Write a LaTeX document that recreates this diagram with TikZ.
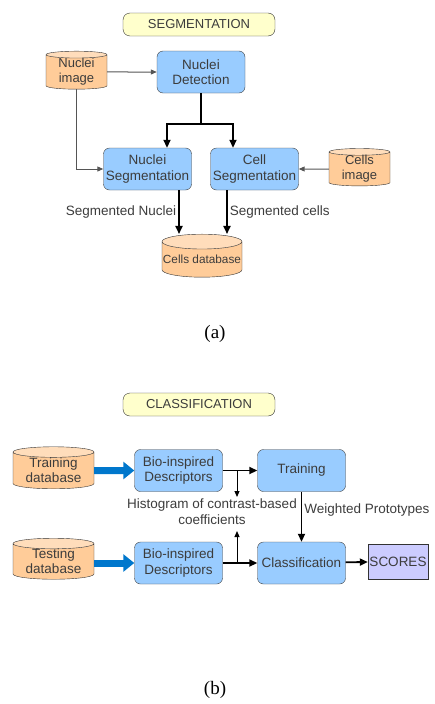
\documentclass[tikz,border=0pt]{standalone}
\usepackage{fontspec}
\setmainfont{Liberation Sans}
\newfontfamily\capfont{Liberation Serif}
\usetikzlibrary{shapes.geometric,arrows.meta,positioning}
\definecolor{boxblue}{HTML}{99CCFF}
\definecolor{dbpeach}{HTML}{FFCC99}
\definecolor{dbtop}{HTML}{FFDDBB}
\definecolor{titleyellow}{HTML}{FFFFCC}
\definecolor{scorelilac}{HTML}{CCCCFF}
\definecolor{fatblue}{HTML}{0077CC}
\definecolor{txtgray}{HTML}{3C3C3C}
\definecolor{linegray}{HTML}{555555}

\begin{document}
\begin{tikzpicture}[x=1pt,y=1pt,
  every node/.style={text=txtgray, font=\fontsize{13.5}{15.5}\selectfont},
  title/.style={draw=black!80, fill=titleyellow, rounded corners=7pt, minimum width=152pt, minimum height=23pt, inner sep=1pt, font=\fontsize{13}{15}\selectfont},
  proc/.style={draw=black!75, fill=boxblue, rounded corners=6pt, minimum width=88pt, minimum height=42pt, inner sep=1pt, align=center},
  db/.style={cylinder, shape border rotate=90, draw=black!80, cylinder uses custom fill, cylinder body fill=dbpeach, cylinder end fill=dbtop, aspect=0.19, inner sep=0pt, align=center, font=\fontsize{13.5}{15}\selectfont},
  feed/.style={draw=linegray, line width=1pt, -{Triangle[length=6pt,width=5pt]}},
  tap/.style={draw=black, line width=1pt, -{Triangle[length=6pt,width=5pt]}},
  flow/.style={draw=black, line width=1.8pt, -{Triangle[length=8pt,width=7pt]}},
  fat/.style={draw=fatblue, line width=7pt, -{Triangle[length=11pt,width=17pt]}},
  lbl/.style={inner sep=2pt}
]
\useasboundingbox (0,0) rectangle (435,-704);

% segmentation
\node[title] (segt) at (199,-24.5) {SEGMENTATION};
\node[db, minimum width=61pt, minimum height=38pt, font=\fontsize{13}{15}\selectfont] (nimg) at (76.5,-72) {Nuclei\\image};
\node[proc] (ndet) at (201,-72) {Nuclei\\Detection};
\node[proc] (nseg) at (147.5,-169) {Nuclei\\Segmentation};
\node[proc] (cseg) at (254.5,-169) {Cell\\Segmentation};
\node[db, minimum width=61pt, minimum height=37pt, font=\fontsize{13}{15}\selectfont] (cimg) at (359.5,-169) {Cells\\image};
\node[db, minimum width=80pt, minimum height=43pt, font=\fontsize{11.8}{14}\selectfont] (cdb) at (202,-259.5) {Cells database};
\node[font=\capfont\fontsize{19}{21}\selectfont, text=black] (capa) at (215,-334) {(a)};

\draw[feed] (nimg) -- (ndet);
\draw[line width=1.8pt] (ndet.south) -- ++(0,-31) coordinate (fork);
\draw[flow] (fork) -| ([xshift=19.5pt]nseg.north);
\draw[flow] (fork) -| ([xshift=-21.5pt]cseg.north);
\draw[feed] (nimg.south) |- (nseg.west);
\draw[feed] (cimg) -- (cseg);
\draw[flow] ([xshift=31.5pt]nseg.south) -- node[left, lbl] {Segmented Nuclei} ([xshift=31.5pt]nseg.south |- cdb.north);
\draw[flow] ([xshift=-27.5pt]cseg.south) -- node[right, lbl] {Segmented cells} ([xshift=-27.5pt]cseg.south |- cdb.north);

% classification
\node[title] (clst) at (199,-404.5) {CLASSIFICATION};
\node[db, minimum width=81pt, minimum height=42pt] (trdb) at (53.5,-470.5) {Training\\database};
\node[proc] (bd1) at (178.5,-470.5) {Bio-inspired\\Descriptors};
\node[proc] (train) at (301.5,-470.5) {Training};
\node[db, minimum width=81pt, minimum height=41pt] (tsdb) at (53.5,-561.5) {Testing\\database};
\node[proc] (bd2) at (178.5,-563) {Bio-inspired\\Descriptors};
\node[proc] (cls) at (301.5,-563) {Classification};
\node[draw=black!80, fill=scorelilac, minimum width=60pt, minimum height=35pt, inner sep=1pt] (score) at (398,-561.5) {SCORES};
\node[align=center] (hist) at (212,-511.5) {Histogram of contrast-based\\coefficients};
\coordinate (hup) at (237,-497);
\coordinate (hlo) at (237,-531);
\node[font=\capfont\fontsize{19}{21}\selectfont, text=black] (capb) at (215,-690) {(b)};

\draw[fat] (trdb) -- (bd1);
\draw[fat] (tsdb.east |- bd2) -- (bd2);
\draw[flow] (bd1) -- (train);
\draw[flow] (train) -- node[right, lbl, pos=0.36] {Weighted Prototypes} (cls);
\draw[flow] (bd2) -- (cls);
\draw[flow] (cls) -- (score);
\draw[tap] (bd1.east -| hup) -- (hup);
\draw[tap] (bd2.east -| hlo) -- (hlo);
\end{tikzpicture}
\end{document}
